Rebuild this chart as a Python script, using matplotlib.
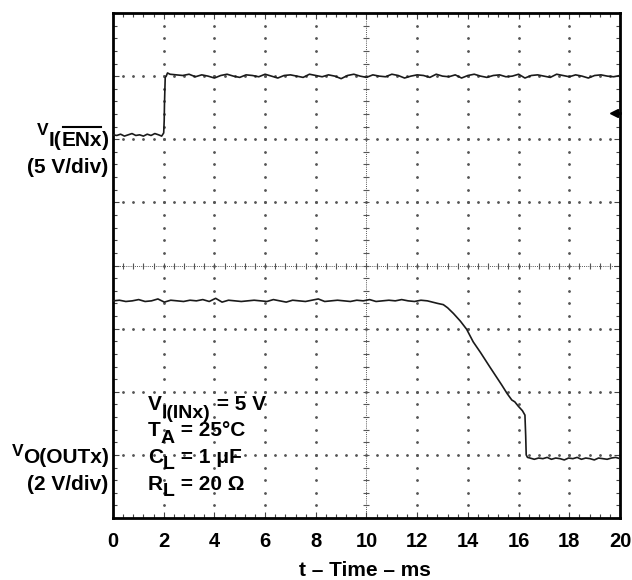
import numpy as np
import matplotlib
matplotlib.use('Agg')
import matplotlib.pyplot as plt
from matplotlib.font_manager import FontProperties
from matplotlib.transforms import IdentityTransform
from matplotlib.lines import Line2D

plt.rcParams['font.family'] = ['Liberation Sans', 'DejaVu Sans']
plt.rcParams['font.weight'] = 'bold'

# screen positions in scope divisions (0 = bottom, 8 = top), time in ms
en_low_t = [0.0, 0.15, 0.3, 0.45, 0.6, 0.75, 0.9, 1.05, 1.2, 1.35, 1.5, 1.65, 1.8, 1.92, 2.0]
en_low_v = [6.07, 6.06, 6.08, 6.05, 6.07, 6.09, 6.06, 6.07, 6.05, 6.08, 6.06, 6.09, 6.07, 6.05, 6.10]
en_step_t = [2.02, 2.03, 2.06, 2.1, 2.15]
en_step_v = [6.30, 6.55, 6.98, 7.00, 7.05]
en_high_v = [7.03, 7.02, 7.01, 7.03, 6.99, 7.02, 7.00, 6.97, 7.01, 7.03, 7.00, 6.98,
             7.02, 7.01, 6.99, 7.03, 7.00, 6.97, 7.01, 7.02, 7.00, 6.98, 7.03, 7.01,
             6.99, 7.02, 7.00, 6.96, 7.01, 7.03, 7.00, 6.98, 7.02, 7.00, 6.99, 7.03,
             7.01, 6.97, 7.00, 7.02, 7.01, 6.98, 7.03, 7.00, 6.99, 7.02, 6.97, 7.01,
             7.03, 7.00, 6.98, 7.01, 7.02, 6.99, 7.00, 7.03, 6.97, 7.01, 7.02, 7.00,
             6.98, 7.03, 7.01, 6.99, 7.02, 7.00, 6.97, 7.01, 7.02, 7.00, 6.99, 7.01]

out_high_v = [3.44, 3.45, 3.43, 3.44, 3.46, 3.43, 3.44, 3.47, 3.42, 3.45, 3.44, 3.43,
              3.45, 3.44, 3.46, 3.43, 3.48, 3.42, 3.45, 3.44, 3.43, 3.44, 3.45, 3.44,
              3.43, 3.46, 3.44, 3.42, 3.45, 3.44, 3.43, 3.45, 3.47, 3.43, 3.44, 3.45,
              3.44, 3.43, 3.45, 3.44, 3.46, 3.43, 3.44, 3.45, 3.44, 3.46, 3.44, 3.43,
              3.45, 3.44]
out_fall_t = [12.5, 12.8, 13.03, 13.2, 13.43, 13.7, 13.95, 14.21, 14.5, 14.87, 15.1,
              15.33, 15.55, 15.73, 15.85, 15.99, 16.15, 16.25, 16.28, 16.3, 16.35]
out_fall_v = [3.43, 3.40, 3.38, 3.33, 3.24, 3.12, 2.99, 2.79, 2.62, 2.39, 2.25,
              2.11, 1.97, 1.87, 1.84, 1.77, 1.70, 1.63, 1.30, 1.00, 0.96]
out_low_v = [0.95, 0.93, 0.95, 0.94, 0.96, 0.93, 0.95, 0.94, 0.92, 0.95, 0.94,
             0.96, 0.93, 0.95, 0.94, 0.92, 0.95, 0.94, 0.93, 0.95, 0.96, 0.94]

x_ticks = [0, 2, 4, 6, 8, 10, 12, 14, 16, 18, 20]

en_t = en_low_t + en_step_t + list(np.linspace(2.25, 20, len(en_high_v)))
en_v = en_low_v + en_step_v + en_high_v
out_t = list(np.linspace(0, 12.4, len(out_high_v))) + out_fall_t + list(np.linspace(16.45, 20, len(out_low_v)))
out_v = out_high_v + out_fall_v + out_low_v

H = 580
fig = plt.figure(figsize=(6.32, 5.8), dpi=100)
ax = fig.add_axes([113 / 632, 1 - 518 / H, 507 / 632, 505 / H])
ax.set_xlim(0, 20)
ax.set_ylim(0, 8)

# dotted graticule
dot = dict(color='#555555', marker='o', markersize=1.0, linestyle='none', zorder=1)
ys = np.arange(0, 8.01, 0.2)
xs = np.arange(0, 20.01, 0.4)
for gx in [2, 4, 6, 8, 12, 14, 16, 18]:
    ax.plot([gx] * len(ys), ys, **dot)
for gy in [1, 2, 3, 5, 6, 7]:
    ax.plot(xs, [gy] * len(xs), **dot)
# center cross lines with small ticks
ax.plot([10, 10], [0, 8], color='#555555', lw=0.7, ls=(0, (1, 1.2)), zorder=1)
ax.plot([0, 20], [4, 4], color='#555555', lw=0.7, ls=(0, (1, 1.2)), zorder=1)
ax.plot([10] * len(ys), ys, color='#555555', marker='_', markersize=4, mew=0.8, ls='none', zorder=1)
ax.plot(xs, [4] * len(xs), color='#555555', marker='|', markersize=4, mew=0.8, ls='none', zorder=1)

# traces
ax.plot(en_t, en_v, color='#1a1a1a', lw=1.2, zorder=3)
ax.plot(out_t, out_v, color='#1a1a1a', lw=1.2, zorder=3)

# channel reference marker
ax.plot([19.78, 20], [6.42, 6.42], color='black', lw=1.8, zorder=4, clip_on=False)
ax.plot([19.76], [6.42], marker='<', markersize=6, color='black', zorder=4, clip_on=False)

for s in ax.spines.values():
    s.set_linewidth(2)
ax.set_xticks(x_ticks)
ax.set_xticklabels([str(v) for v in x_ticks])
ax.set_xticks(xs, minor=True)
ax.set_yticks(range(9))
ax.set_yticks(ys, minor=True)
ax.set_yticklabels([])
ax.tick_params(which='both', direction='in', top=True, right=True, width=0.8, color='#444444')
ax.tick_params(which='major', length=4, labelsize=14.5, pad=10)
ax.tick_params(which='minor', length=3)

fig.text(365, H - 576, 't – Time – ms', transform=IdentityTransform(),
         ha='center', va='baseline', fontsize=15, fontweight='bold')

renderer = fig.canvas.get_renderer()


def put_pieces(x_px, base_px, pieces, ha='left'):
    # pieces: (text, size, drop in px, overline); positions in pixels from top-left
    props = [FontProperties(family='Liberation Sans', weight='bold', size=p[1]) for p in pieces]
    widths = [renderer.get_text_width_height_descent(p[0], fp, ismath=False)[0]
              for p, fp in zip(pieces, props)]
    x = x_px - sum(widths) if ha == 'right' else x_px
    for (s, size, drop, over), fp, w in zip(pieces, props, widths):
        fig.text(x, H - (base_px + drop), s, transform=IdentityTransform(),
                 ha='left', va='baseline', fontproperties=fp)
        if over:
            yo = H - (base_px + drop - size * 1.39 * 0.716 - 4)
            fig.add_artist(Line2D([x + 1, x + w - 1], [yo, yo], color='black', lw=1.5,
                                  transform=IdentityTransform()))
        x += w


# channel labels left of the screen
put_pieces(109, 146, [('V', 12.5, -11, False), ('I(', 15, 0, False),
                      ('ENx', 15, 0, True), (')', 15, 0, False)], ha='right')
put_pieces(108, 173, [('(5 V/div)', 15, 0, False)], ha='right')
put_pieces(109, 463, [('V', 12.5, -7, False), ('O(OUTx)', 15, 0, False)], ha='right')
put_pieces(108, 490, [('(2 V/div)', 15, 0, False)], ha='right')

# test conditions
put_pieces(148, 410, [('V', 15, 0, False), ('I(INx)', 14, 8, False), (' = 5 V', 15, 0, False)])
put_pieces(148, 436, [('T', 15, 0, False), ('A', 14, 7, False), (' = 25°C', 15, 0, False)])
put_pieces(148, 463, [('C', 15, 0, False), ('L', 14, 6, False), (' = 1 μF', 15, 0, False)])
put_pieces(148, 490, [('R', 15, 0, False), ('L', 14, 6, False), (' = 20 Ω', 15, 0, False)])

fig.savefig('out.png', dpi=100)
